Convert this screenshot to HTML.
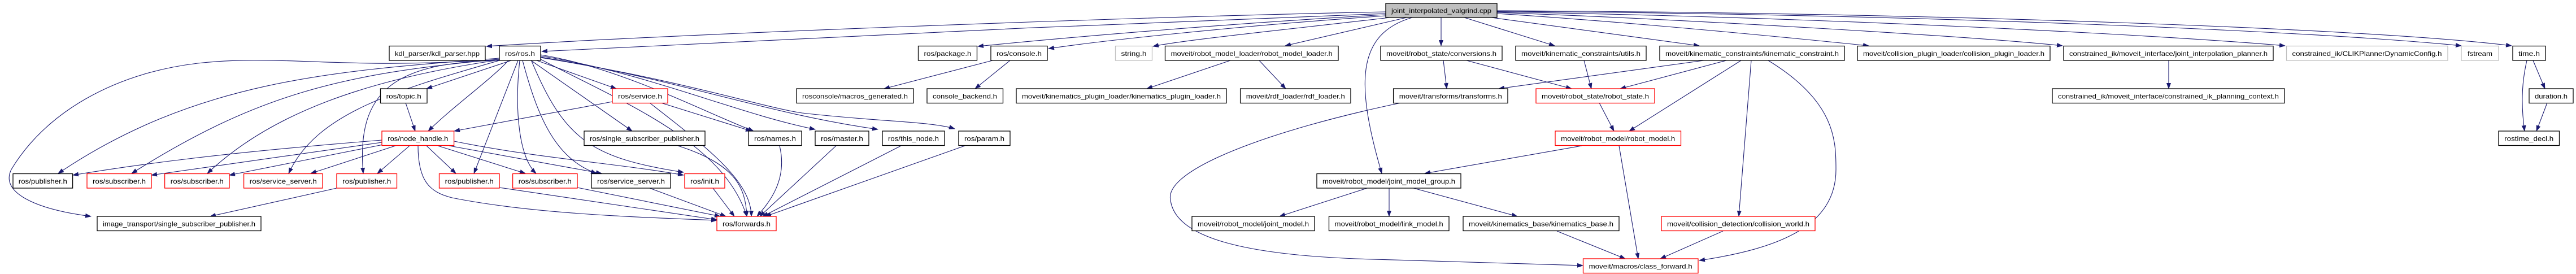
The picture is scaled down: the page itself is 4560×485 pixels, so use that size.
<!DOCTYPE html>
<html><head><meta charset="utf-8"><style>
html,body{margin:0;padding:0;background:#fff;}
svg{display:block}
text{font-family:"Liberation Sans",Arial,sans-serif;font-size:12px;fill:#000}
.n{fill:#fff;stroke:#000;stroke-width:1.3}
.r{fill:#fff;stroke:#ff0000;stroke-width:1.3}
.g{fill:#fff;stroke:#bfbfbf;stroke-width:1.3}
path.e{fill:none;stroke:#191970;stroke-width:1.1;marker-end:url(#a)}
</style></head><body>
<svg width="4560" height="485" viewBox="0 0 4560 485" xmlns="http://www.w3.org/2000/svg">
<defs><marker id="a" markerWidth="11" markerHeight="8" refX="10" refY="4" orient="auto" markerUnits="userSpaceOnUse"><path d="M0,0 L11,4 L0,8z" fill="#191970"/></marker></defs>
<g>
<!-- root edges -->
<path class="e" d="M2453,21 C2000,30 1200,60 861,82"/>
<path class="e" d="M2453,24 C2000,40 1300,72 959,91"/>
<path class="e" d="M2453,26 C2200,40 1900,65 1731,82"/>
<path class="e" d="M2453,28 C2200,45 1950,72 1856,86"/>
<path class="e" d="M2460,31 C2300,50 2100,70 2041,82"/>
<path class="e" d="M2490,31 L2275,81"/>
<path class="e" d="M2551,31 L2551,81"/>
<path class="e" d="M2592,31 L2752,81"/>
<path class="e" d="M2640,31 L3008,81"/>
<path class="e" d="M2650,24 C2900,40 3200,70 3308,81"/>
<path class="e" d="M2650,22 C3000,35 3500,65 3651,81"/>
<path class="e" d="M2650,21 C3200,30 3800,60 4045,81"/>
<path class="e" d="M2650,20 C3400,25 4100,55 4357,81"/>
<path class="e" d="M2650,19 C3400,22 4200,50 4446,81"/>
<path class="e" d="M2500,31 C2400,60 2400,150 2446,307"/>
<!-- ros.h edges -->
<path class="e" d="M905,107 L755,157"/>
<path class="e" d="M900,107 C870,140 800,190 758,232"/>
<path class="e" d="M950,107 L1091,157"/>
<path class="e" d="M940,107 L1119,232"/>
<path class="e" d="M884,103 C600,125 350,140 103,307"/>
<path class="e" d="M884,105 C600,130 450,170 233,307"/>
<path class="e" d="M884,106 C650,140 480,200 367,307"/>
<path class="e" d="M884,107 C700,160 560,200 511,307"/>
<path class="e" d="M884,107 C700,110 630,160 643,307"/>
<path class="e" d="M884,105 C600,125 500,95 350,112 C200,130 80,200 20,300 C0,340 60,370 161,383"/>
<path class="e" d="M917,107 L839,307"/>
<path class="e" d="M920,107 C910,200 920,280 949,307"/>
<path class="e" d="M925,107 C950,200 980,280 1056,307"/>
<path class="e" d="M941,108 C1000,250 1050,280 1210,305"/>
<path class="e" d="M957,97 C1100,120 1250,200 1334,232"/>
<path class="e" d="M957,99 C1150,130 1300,200 1443,229"/>
<path class="e" d="M957,101 C1200,140 1350,200 1554,229"/>
<path class="e" d="M957,102 C1200,140 1350,190 1420,200 C1550,215 1650,215 1690,228"/>
<path class="e" d="M957,105 C1100,180 1280,250 1322,383"/>
<!-- service.h -->
<path class="e" d="M1084,180 L804,232"/>
<path class="e" d="M1170,182 L1330,232"/>
<path class="e" d="M1150,182 C1250,260 1330,320 1330,383"/>
<!-- node_handle -->
<path class="e" d="M676,248 C400,270 250,290 129,310"/>
<path class="e" d="M676,252 L268,310"/>
<path class="e" d="M678,256 L406,310"/>
<path class="e" d="M700,258 L550,307"/>
<path class="e" d="M725,258 L668,307"/>
<path class="e" d="M755,258 L807,307"/>
<path class="e" d="M775,258 L930,307"/>
<path class="e" d="M795,258 L1065,307"/>
<path class="e" d="M804,250 C950,280 1100,290 1210,310"/>
<path class="e" d="M740,258 C740,320 760,340 800,350 C950,380 1150,385 1269,390"/>
<path class="e" d="M718,182 L735,232"/>
<!-- to forwards -->
<path class="e" d="M596,333 L372,383"/>
<path class="e" d="M884,332 L1269,389"/>
<path class="e" d="M1022,332 L1275,383"/>
<path class="e" d="M1150,333 L1285,383"/>
<path class="e" d="M1262,333 L1300,383"/>
<path class="e" d="M1200,258 C1300,290 1320,330 1322,383"/>
<path class="e" d="M1380,258 C1395,320 1360,360 1340,383"/>
<path class="e" d="M1480,258 L1345,383"/>
<path class="e" d="M1595,258 L1350,383"/>
<path class="e" d="M1708,258 L1355,383"/>
<!-- console / loader -->
<path class="e" d="M1757,107 L1565,157"/>
<path class="e" d="M1788,107 L1726,157"/>
<path class="e" d="M2178,107 L2030,157"/>
<path class="e" d="M2229,107 L2276,157"/>
<!-- moveit -->
<path class="e" d="M2555,107 L2561,157"/>
<path class="e" d="M2596,107 L2782,157"/>
<path class="e" d="M2804,107 L2817,157"/>
<path class="e" d="M3016,107 L2653,157"/>
<path class="e" d="M3056,107 L2868,157"/>
<path class="e" d="M3082,107 L2884,232"/>
<path class="e" d="M3100,107 L3078,383"/>
<path class="e" d="M3130,107 C3250,180 3250,250 3250,300 C3250,400 3150,440 3008,461"/>
<path class="e" d="M2831,182 L2857,232"/>
<path class="e" d="M2800,258 L2522,307"/>
<path class="e" d="M2866,258 L2900,458"/>
<path class="e" d="M2480,182 C2250,230 2060,300 2072,354 C2080,420 2200,450 2400,458 C2600,465 2750,469 2802,470"/>
<path class="e" d="M2420,333 L2265,383"/>
<path class="e" d="M2459,333 L2459,383"/>
<path class="e" d="M2502,333 L2686,383"/>
<path class="e" d="M2756,409 L2877,458"/>
<path class="e" d="M3050,409 L2939,458"/>
<path class="e" d="M3839,107 L3839,157"/>
<path class="e" d="M4484,107 L4505,157"/>
<path class="e" d="M4473,107 C4463,150 4463,190 4469,232"/>
<path class="e" d="M4509,182 L4490,232"/>
</g>
<g>
<rect x="2453" y="6" width="197" height="25" fill="#bfbfbf" stroke="#000" stroke-width="1.3"/><text x="2551.5" y="23" text-anchor="middle" textLength="177" lengthAdjust="spacingAndGlyphs">joint_interpolated_valgrind.cpp</text>
<!-- row1 y81.5 -->
<rect class="n" x="689" y="81.5" width="170" height="25.5"/><text x="774" y="99" text-anchor="middle" textLength="150" lengthAdjust="spacingAndGlyphs">kdl_parser/kdl_parser.hpp</text>
<rect class="n" x="884" y="81.5" width="73" height="25.5"/><text x="920.5" y="99" text-anchor="middle" textLength="53" lengthAdjust="spacingAndGlyphs">ros/ros.h</text>
<rect class="n" x="1625.5" y="81.5" width="104" height="25.5"/><text x="1677.5" y="99" text-anchor="middle" textLength="84" lengthAdjust="spacingAndGlyphs">ros/package.h</text>
<rect class="n" x="1754" y="81.5" width="100" height="25.5"/><text x="1804" y="99" text-anchor="middle" textLength="80" lengthAdjust="spacingAndGlyphs">ros/console.h</text>
<rect class="g" x="1974.5" y="81.5" width="65" height="25.5"/><text x="2007" y="99" text-anchor="middle" textLength="45" lengthAdjust="spacingAndGlyphs">string.h</text>
<rect class="n" x="2062.5" y="81.5" width="306.5" height="25.5"/><text x="2215.7" y="99" text-anchor="middle" textLength="286" lengthAdjust="spacingAndGlyphs">moveit/robot_model_loader/robot_model_loader.h</text>
<rect class="n" x="2444" y="81.5" width="215" height="25.5"/><text x="2551.5" y="99" text-anchor="middle" textLength="195" lengthAdjust="spacingAndGlyphs">moveit/robot_state/conversions.h</text>
<rect class="n" x="2683" y="81.5" width="231" height="25.5"/><text x="2798.5" y="99" text-anchor="middle" textLength="211" lengthAdjust="spacingAndGlyphs">moveit/kinematic_constraints/utils.h</text>
<rect class="n" x="2938" y="81.5" width="327" height="25.5"/><text x="3101.5" y="99" text-anchor="middle" textLength="307" lengthAdjust="spacingAndGlyphs">moveit/kinematic_constraints/kinematic_constraint.h</text>
<rect class="n" x="3288" y="81.5" width="341" height="25.5"/><text x="3458.5" y="99" text-anchor="middle" textLength="321" lengthAdjust="spacingAndGlyphs">moveit/collision_plugin_loader/collision_plugin_loader.h</text>
<rect class="n" x="3653" y="81.5" width="371" height="25.5"/><text x="3838.5" y="99" text-anchor="middle" textLength="351" lengthAdjust="spacingAndGlyphs">constrained_ik/moveit_interface/joint_interpolation_planner.h</text>
<rect class="g" x="4047.5" y="81.5" width="285.5" height="25.5"/><text x="4190" y="99" text-anchor="middle" textLength="265" lengthAdjust="spacingAndGlyphs">constrained_ik/CLIKPlannerDynamicConfig.h</text>
<rect class="g" x="4357" y="81.5" width="66" height="25.5"/><text x="4390" y="99" text-anchor="middle" textLength="44" lengthAdjust="spacingAndGlyphs">fstream</text>
<rect class="n" x="4448" y="81.5" width="58" height="25.5"/><text x="4477" y="99" text-anchor="middle" textLength="38" lengthAdjust="spacingAndGlyphs">time.h</text>
<!-- row2 y157 -->
<rect class="n" x="673.5" y="157" width="82.5" height="25.5"/><text x="714.7" y="174.5" text-anchor="middle" textLength="62" lengthAdjust="spacingAndGlyphs">ros/topic.h</text>
<rect class="r" x="1084" y="157" width="98" height="25.5"/><text x="1133" y="174.5" text-anchor="middle" textLength="78" lengthAdjust="spacingAndGlyphs">ros/service.h</text>
<rect class="n" x="1410" y="157" width="207" height="25.5"/><text x="1513.5" y="174.5" text-anchor="middle" textLength="187" lengthAdjust="spacingAndGlyphs">rosconsole/macros_generated.h</text>
<rect class="n" x="1641" y="157" width="134.5" height="25.5"/><text x="1708" y="174.5" text-anchor="middle" textLength="114" lengthAdjust="spacingAndGlyphs">console_backend.h</text>
<rect class="n" x="1799" y="157" width="372" height="25.5"/><text x="1985" y="174.5" text-anchor="middle" textLength="352" lengthAdjust="spacingAndGlyphs">moveit/kinematics_plugin_loader/kinematics_plugin_loader.h</text>
<rect class="n" x="2195.6" y="157" width="195.4" height="25.5"/><text x="2293.3" y="174.5" text-anchor="middle" textLength="175" lengthAdjust="spacingAndGlyphs">moveit/rdf_loader/rdf_loader.h</text>
<rect class="n" x="2466.6" y="157" width="202.4" height="25.5"/><text x="2567.8" y="174.5" text-anchor="middle" textLength="182" lengthAdjust="spacingAndGlyphs">moveit/transforms/transforms.h</text>
<rect class="r" x="2719" y="157" width="210" height="25.5"/><text x="2824" y="174.5" text-anchor="middle" textLength="190" lengthAdjust="spacingAndGlyphs">moveit/robot_state/robot_state.h</text>
<rect class="n" x="3633" y="157" width="411" height="25.5"/><text x="3838.5" y="174.5" text-anchor="middle" textLength="391" lengthAdjust="spacingAndGlyphs">constrained_ik/moveit_interface/constrained_ik_planning_context.h</text>
<rect class="n" x="4477" y="157" width="78" height="25.5"/><text x="4516" y="174.5" text-anchor="middle" textLength="58" lengthAdjust="spacingAndGlyphs">duration.h</text>
<!-- row3 y232 -->
<rect class="r" x="676" y="232" width="127.6" height="25.5"/><text x="739.8" y="249.5" text-anchor="middle" textLength="107" lengthAdjust="spacingAndGlyphs">ros/node_handle.h</text>
<rect class="n" x="1034" y="232" width="214" height="25.5"/><text x="1141" y="249.5" text-anchor="middle" textLength="194" lengthAdjust="spacingAndGlyphs">ros/single_subscriber_publisher.h</text>
<rect class="n" x="1325" y="232" width="94" height="25.5"/><text x="1372" y="249.5" text-anchor="middle" textLength="74" lengthAdjust="spacingAndGlyphs">ros/names.h</text>
<rect class="n" x="1443" y="232" width="95" height="25.5"/><text x="1490.5" y="249.5" text-anchor="middle" textLength="75" lengthAdjust="spacingAndGlyphs">ros/master.h</text>
<rect class="n" x="1562" y="232" width="110" height="25.5"/><text x="1617" y="249.5" text-anchor="middle" textLength="90" lengthAdjust="spacingAndGlyphs">ros/this_node.h</text>
<rect class="n" x="1697" y="232" width="91" height="25.5"/><text x="1742.5" y="249.5" text-anchor="middle" textLength="71" lengthAdjust="spacingAndGlyphs">ros/param.h</text>
<rect class="r" x="2753" y="232" width="222.5" height="25.5"/><text x="2864.2" y="249.5" text-anchor="middle" textLength="202" lengthAdjust="spacingAndGlyphs">moveit/robot_model/robot_model.h</text>
<rect class="n" x="4423" y="232" width="107.5" height="25.5"/><text x="4476.7" y="249.5" text-anchor="middle" textLength="87" lengthAdjust="spacingAndGlyphs">rostime_decl.h</text>
<!-- row4 y307.5 -->
<rect class="n" x="23" y="307.5" width="105.6" height="25.5"/><text x="75.8" y="325" text-anchor="middle" textLength="86" lengthAdjust="spacingAndGlyphs">ros/publisher.h</text>
<rect class="r" x="154" y="307.5" width="114" height="25.5"/><text x="211" y="325" text-anchor="middle" textLength="94" lengthAdjust="spacingAndGlyphs">ros/subscriber.h</text>
<rect class="r" x="291.6" y="307.5" width="114.4" height="25.5"/><text x="348.8" y="325" text-anchor="middle" textLength="94" lengthAdjust="spacingAndGlyphs">ros/subscriber.h</text>
<rect class="r" x="431.6" y="307.5" width="139.4" height="25.5"/><text x="501.3" y="325" text-anchor="middle" textLength="119" lengthAdjust="spacingAndGlyphs">ros/service_server.h</text>
<rect class="r" x="596" y="307.5" width="106.5" height="25.5"/><text x="649.2" y="325" text-anchor="middle" textLength="86" lengthAdjust="spacingAndGlyphs">ros/publisher.h</text>
<rect class="r" x="777.5" y="307.5" width="106.5" height="25.5"/><text x="830.7" y="325" text-anchor="middle" textLength="86" lengthAdjust="spacingAndGlyphs">ros/publisher.h</text>
<rect class="r" x="907.6" y="307.5" width="114.4" height="25.5"/><text x="964.8" y="325" text-anchor="middle" textLength="94" lengthAdjust="spacingAndGlyphs">ros/subscriber.h</text>
<rect class="n" x="1047" y="307.5" width="140" height="25.5"/><text x="1117" y="325" text-anchor="middle" textLength="120" lengthAdjust="spacingAndGlyphs">ros/service_server.h</text>
<rect class="r" x="1212" y="307.5" width="71" height="25.5"/><text x="1247.5" y="325" text-anchor="middle" textLength="51" lengthAdjust="spacingAndGlyphs">ros/init.h</text>
<rect class="n" x="2331" y="307.5" width="255" height="25.5"/><text x="2458.5" y="325" text-anchor="middle" textLength="235" lengthAdjust="spacingAndGlyphs">moveit/robot_model/joint_model_group.h</text>
<!-- row5 y383 -->
<rect class="n" x="172" y="383" width="290" height="25.5"/><text x="317" y="400.5" text-anchor="middle" textLength="270" lengthAdjust="spacingAndGlyphs">image_transport/single_subscriber_publisher.h</text>
<rect class="r" x="1269" y="383" width="105" height="25.5"/><text x="1321.5" y="400.5" text-anchor="middle" textLength="85" lengthAdjust="spacingAndGlyphs">ros/forwards.h</text>
<rect class="n" x="2110" y="383" width="217" height="25.5"/><text x="2218.5" y="400.5" text-anchor="middle" textLength="197" lengthAdjust="spacingAndGlyphs">moveit/robot_model/joint_model.h</text>
<rect class="n" x="2352.5" y="383" width="212.5" height="25.5"/><text x="2458.7" y="400.5" text-anchor="middle" textLength="192" lengthAdjust="spacingAndGlyphs">moveit/robot_model/link_model.h</text>
<rect class="n" x="2590" y="383" width="276" height="25.5"/><text x="2728" y="400.5" text-anchor="middle" textLength="256" lengthAdjust="spacingAndGlyphs">moveit/kinematics_base/kinematics_base.h</text>
<rect class="r" x="2941" y="383" width="272" height="25.5"/><text x="3077" y="400.5" text-anchor="middle" textLength="252" lengthAdjust="spacingAndGlyphs">moveit/collision_detection/collision_world.h</text>
<!-- row6 -->
<rect class="r" x="2802.5" y="458" width="203.5" height="25.5"/><text x="2904.2" y="475.5" text-anchor="middle" textLength="183" lengthAdjust="spacingAndGlyphs">moveit/macros/class_forward.h</text>
</g>
</svg>
</body></html>
